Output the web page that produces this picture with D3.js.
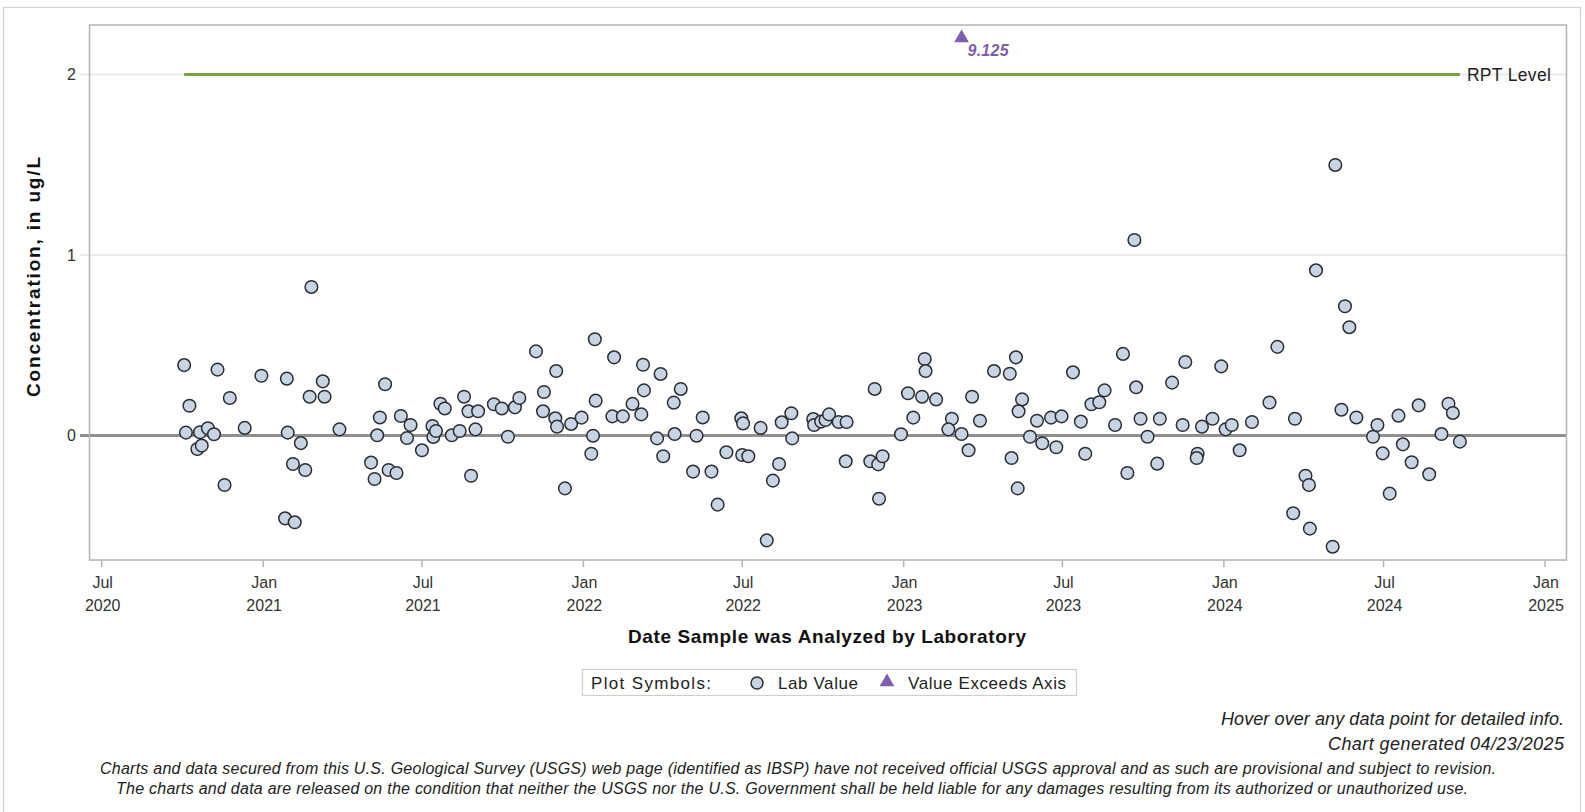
<!DOCTYPE html>
<html><head><meta charset="utf-8">
<script src="https://cdn.jsdelivr.net/npm/d3@7"></script>
<style>
html,body{margin:0;padding:0;background:#fff;}
svg{display:block;font-family:"Liberation Sans",Arial,sans-serif;}
</style></head>
<body>
<svg id="c" width="1585" height="812"></svg>
<script>
// ---- data ----
const sampleDates = [
"2020-10-03","2020-10-09","2020-10-05","2020-10-18","2020-10-23","2020-10-21","2020-10-30","2020-11-06","2020-11-10","2020-11-18",
"2020-11-24","2020-12-11","2020-12-30","2021-01-28","2021-01-29","2021-01-26","2021-02-06","2021-02-04","2021-02-13","2021-02-18",
"2021-02-23","2021-02-25","2021-03-10","2021-03-12","2021-03-29","2021-05-04","2021-05-08","2021-05-11","2021-05-14","2021-05-20",
"2021-05-24","2021-06-02","2021-06-07","2021-06-14","2021-06-18","2021-07-01","2021-07-13","2021-07-14","2021-07-17","2021-07-22",
"2021-07-27","2021-08-04","2021-08-13","2021-08-18","2021-08-23","2021-09-03","2021-08-26","2021-08-31","2021-09-21","2021-09-30",
"2021-10-07","2021-10-15","2021-10-20","2021-11-08","2021-11-17","2021-11-16","2021-12-01","2021-11-30","2021-12-02","2021-12-11",
"2021-12-18","2021-12-30","2022-01-14","2022-01-15","2022-01-12","2022-01-10","2022-02-05","2022-02-03","2022-02-15","2022-02-26",
"2022-03-10","2022-03-11","2022-03-08","2022-03-26","2022-03-30","2022-04-02","2022-04-14","2022-04-15","2022-04-22","2022-05-06",
"2022-05-10","2022-05-17","2022-05-27","2022-06-03","2022-06-13","2022-06-30","2022-07-02","2022-07-01","2022-07-08","2022-07-22",
"2022-07-29","2022-08-05","2022-08-12","2022-08-15","2022-08-26","2022-08-27","2022-09-20","2022-09-21","2022-09-29","2022-10-04",
"2022-10-08","2022-10-19","2022-10-28","2022-10-27","2022-11-24","2022-11-29","2022-12-03","2022-12-04","2022-12-08","2022-12-29",
"2023-01-06","2023-01-12","2023-01-22","2023-01-25","2023-01-26","2023-02-07","2023-02-25","2023-02-21","2023-03-08","2023-03-16",
"2023-03-20","2023-03-29","2023-04-14","2023-05-02","2023-05-09","2023-05-16","2023-05-12","2023-05-04","2023-05-11","2023-05-25",
"2023-06-02","2023-06-08","2023-06-18","2023-06-30","2023-06-24","2023-07-13","2023-07-22","2023-07-27","2023-08-03","2023-08-12",
"2023-08-18","2023-08-30","2023-09-08","2023-09-13","2023-09-21","2023-09-23","2023-09-28","2023-10-06","2023-10-17","2023-10-20",
"2023-11-03","2023-11-15","2023-11-18","2023-12-02","2023-12-01","2023-12-07","2023-12-19","2023-12-29","2024-01-03","2024-01-10",
"2024-01-19","2024-02-02","2024-02-22","2024-03-02","2024-03-20","2024-03-22","2024-04-03","2024-04-07","2024-04-08","2024-04-15",
"2024-05-04","2024-05-07","2024-05-14","2024-05-18","2024-05-23","2024-05-31","2024-06-19","2024-06-24","2024-06-30","2024-07-08",
"2024-07-18","2024-07-23","2024-08-02","2024-08-10","2024-08-22","2024-09-05","2024-09-13","2024-09-18","2024-09-26"
];
const labValues = [
0.39,0.165,0.016,-0.075,-0.056,0.018,0.04,0.007,0.365,-0.274,
0.208,0.042,0.331,0.315,0.016,-0.459,-0.481,-0.158,-0.042,-0.191,
0.215,0.823,0.30,0.215,0.034,-0.15,-0.241,0.001,0.10,0.284,
-0.191,-0.208,0.108,-0.014,0.058,-0.082,0.053,-0.008,0.025,0.176,
0.15,0.001,0.025,0.215,0.134,0.134,-0.223,0.034,0.173,0.15,
-0.007,0.156,0.208,0.466,0.241,0.134,0.357,0.095,0.049,-0.293,
0.064,0.099,0.533,0.193,-0.001,-0.101,0.433,0.106,0.106,0.175,
0.392,0.25,0.117,-0.016,0.341,-0.115,0.182,0.008,0.258,-0.2,
-0.001,0.10,-0.2,-0.383,-0.093,0.095,0.067,-0.108,-0.115,0.042,
-0.581,-0.25,-0.158,0.073,0.123,-0.016,0.091,0.058,0.077,0.086,
0.117,0.075,0.075,-0.143,-0.143,0.258,-0.16,-0.35,-0.115,0.007,
0.234,0.099,0.215,0.424,0.357,0.20,0.093,0.034,0.008,-0.082,
0.215,0.082,0.357,0.342,0.433,0.20,0.134,-0.125,-0.293,-0.007,
0.082,-0.043,0.099,0.106,-0.065,0.35,0.077,-0.101,0.173,0.184,
0.25,0.058,0.452,-0.208,1.083,0.267,0.093,-0.007,-0.156,0.093,
0.293,0.058,0.407,-0.101,-0.125,0.049,0.093,0.383,0.034,0.058,
-0.082,0.075,0.183,0.491,-0.431,0.093,-0.223,-0.274,-0.516,0.915,
-0.616,1.499,0.143,0.716,0.60,0.10,-0.007,0.058,-0.099,-0.322,
0.11,-0.049,-0.148,0.167,-0.215,0.008,0.176,0.125,-0.034
];
const exceedDates = ["2023-03-08"];
const exceedValues = [9.125];
const rptLevel = 2;
const yTicks = [0, 1, 2];
const footnotes = ["Hover over any data point for detailed info.", "Chart generated 04/23/2025"];
const disclaimer = [
"Charts and data secured from this U.S. Geological Survey (USGS) web page (identified as IBSP) have not received official USGS approval and as such are provisional and subject to revision.",
"The charts and data are released on the condition that neither the USGS nor the U.S. Government shall be held liable for any damages resulting from its authorized or unauthorized use."
];

// ---- layout ----
const parse = d3.timeParse("%Y-%m-%d");
const svg = d3.select("#c");
const L = 89.5, R = 1566.5, T = 25, B = 560;

const x = d3.scaleTime()
  .domain([new Date(2020,6,1), new Date(2025,0,1)])
  .range([101.7, 1545]);
const y = d3.scaleLinear().domain([0, 2]).range([435.5, 74.5]);

// outer frame
svg.append("rect").attr("x",3.5).attr("y",7.5).attr("width",1577).attr("height",820)
  .attr("fill","none").attr("stroke","#d0d0d0").attr("stroke-width",1.2);

// gridlines (extend left as ticks)
svg.append("g").selectAll("line").data(yTicks.filter(d=>d!==0)).join("line")
  .attr("x1",80).attr("x2",R).attr("y1",d=>y(d)).attr("y2",d=>y(d))
  .attr("stroke","#ebebeb").attr("stroke-width",2);

// y tick labels
svg.append("g").selectAll("text").data(yTicks).join("text")
  .attr("x",76).attr("y",d=>y(d)).attr("dy","0.36em").attr("text-anchor","end")
  .attr("font-size",16).attr("fill","#333").text(d=>d);

// zero line
svg.append("line").attr("x1",80).attr("x2",R).attr("y1",y(0)).attr("y2",y(0))
  .attr("stroke","#8f8f8f").attr("stroke-width",3);

// plot frame
svg.append("rect").attr("x",L).attr("y",T).attr("width",R-L).attr("height",B-T)
  .attr("fill","none").attr("stroke","#b4b4b4").attr("stroke-width",1.5);

// x axis ticks
const xt = x.ticks(d3.timeMonth.every(6));
const xg = svg.append("g");
xg.selectAll("line").data(xt).join("line")
  .attr("x1",d=>x(d)).attr("x2",d=>x(d)).attr("y1",B).attr("y2",B+7)
  .attr("stroke","#b4b4b4").attr("stroke-width",1.5);
const fmtM = d3.timeFormat("%b"), fmtY = d3.timeFormat("%Y");
const lbl = xg.selectAll("text").data(xt).join("text")
  .attr("text-anchor","middle").attr("font-size",16).attr("fill","#333");
lbl.append("tspan").attr("x",d=>x(d)+1).attr("y",588).text(d=>fmtM(d));
lbl.append("tspan").attr("x",d=>x(d)+1).attr("y",611).text(d=>fmtY(d));

// axis titles
svg.append("text").attr("x",827).attr("y",643).attr("text-anchor","middle")
  .attr("font-size",19).attr("font-weight","bold").attr("fill","#111")
  .attr("textLength",398).attr("lengthAdjust","spacing")
  .text("Date Sample was Analyzed by Laboratory");
svg.append("text").attr("transform","translate(40,277) rotate(-90)").attr("text-anchor","middle")
  .attr("font-size",19).attr("font-weight","bold").attr("fill","#111")
  .attr("textLength",240).attr("lengthAdjust","spacing")
  .text("Concentration, in ug/L");

// RPT line
const allDates = sampleDates.map(parse);
const [d0, d1] = d3.extent(allDates);
svg.append("line").attr("x1",x(d0)).attr("x2",x(d1)).attr("y1",y(rptLevel)).attr("y2",y(rptLevel))
  .attr("stroke","#7ba23f").attr("stroke-width",3);
svg.append("text").attr("x",x(d1)+7).attr("y",y(rptLevel)).attr("dy","0.36em")
  .attr("font-size",17.5).attr("fill","#222").attr("textLength",84).attr("lengthAdjust","spacing").text("RPT Level");

// points
svg.append("g").selectAll("circle").data(labValues).join("circle")
  .attr("cx",(d,i)=>x(allDates[i])).attr("cy",d=>y(d)).attr("r",6.3)
  .attr("fill","#c8d4e4").attr("stroke","#2a2e33").attr("stroke-width",1.5);

// exceedance markers
const tri = d3.symbol().type(d3.symbolTriangle).size(95);
const ex = svg.append("g");
exceedDates.forEach((ds,i)=>{
  const cx = x(parse(ds)), cy = 38;
  ex.append("path").attr("d",tri()).attr("transform",`translate(${cx},${cy})`).attr("fill","#7f5fab");
  ex.append("text").attr("x",cx+6).attr("y",cy+18).attr("font-size",16).attr("font-weight","bold")
    .attr("font-style","italic").attr("fill","#7f5fab").attr("textLength",41).attr("lengthAdjust","spacing")
    .text(d3.format(".3f")(exceedValues[i]));
});

// legend
const lg = svg.append("g");
lg.append("rect").attr("x",582.5).attr("y",669.5).attr("width",494).attr("height",26)
  .attr("fill","#fff").attr("stroke","#cfcfcf").attr("stroke-width",1.2);
lg.append("text").attr("x",591).attr("y",689).attr("font-size",17).attr("fill","#222")
  .attr("textLength",120).attr("lengthAdjust","spacing").text("Plot Symbols:");
lg.append("circle").attr("cx",757).attr("cy",683).attr("r",6).attr("fill","#c8d4e4").attr("stroke","#2a2e33").attr("stroke-width",1.5);
lg.append("text").attr("x",778).attr("y",689).attr("font-size",17).attr("fill","#222")
  .attr("textLength",80).attr("lengthAdjust","spacing").text("Lab Value");
lg.append("path").attr("d",tri()).attr("transform","translate(887,682)").attr("fill","#7f5fab");
lg.append("text").attr("x",908).attr("y",689).attr("font-size",17).attr("fill","#222")
  .attr("textLength",158).attr("lengthAdjust","spacing").text("Value Exceeds Axis");

// footnotes
const fnLen = [343, 236];
svg.append("g").selectAll("text").data(footnotes).join("text")
  .attr("x",1564).attr("y",(d,i)=>725+i*25).attr("text-anchor","end")
  .attr("font-size",18).attr("font-style","italic").attr("fill","#222")
  .attr("textLength",(d,i)=>fnLen[i]).attr("lengthAdjust","spacing").text(d=>d);
const dcX = [100, 116], dcLen = [1396, 1352];
svg.append("g").selectAll("text").data(disclaimer).join("text")
  .attr("x",(d,i)=>dcX[i]).attr("y",(d,i)=>774+i*20)
  .attr("font-size",16).attr("font-style","italic").attr("fill","#222")
  .attr("textLength",(d,i)=>dcLen[i]).attr("lengthAdjust","spacing").text(d=>d);
</script>
</body></html>
